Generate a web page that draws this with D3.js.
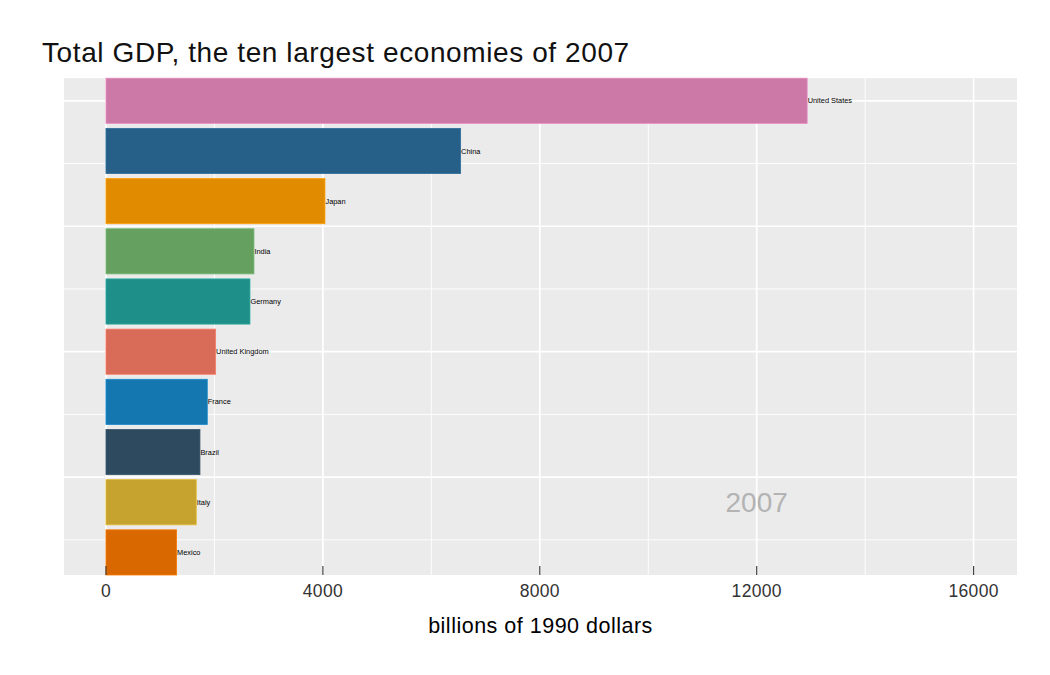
<!DOCTYPE html>
<meta charset="utf-8">
<script src="https://d3js.org/d3.v7.min.js"></script>
<style type="text/css">
    body { margin: 0; background: #fff; }
    text { font-family: "Liberation Sans", Arial, Helvetica, sans-serif; }
</style>
<body>
<svg width="1050" height="675"></svg>
<script>

    let countries = ['United States','China','Japan','India','Germany','United Kingdom','France','Brazil','Italy','Mexico'],
        gdp = [12930, 6540, 4038, 2729, 2655, 2022, 1868, 1733, 1665, 1302],
        colors = ['#CC79A7','#265F87','#E08B00','#66A061','#1F9089','#D96B59','#1477B0','#2E4A5E','#C6A22E','#D96800'],
        xMajor = [0, 4000, 8000, 12000, 16000],
        xMinor = [2000, 6000, 10000, 14000],
        yMajor = [1, 3.5, 6, 8.5],
        yMinor = [2.25, 4.75, 7.25, 9.75],
        year = '2007'

    let data = countries.map((c,i)=>({name:c, value:gdp[i], rank:i+1, color:colors[i]}))

    let pLeft = 64, pRight = 1017, pTop = 78.2, pBottom = 575

    let x = d3.scaleLinear().domain([-774, 16800]).range([pLeft, pRight])
    let y = d3.scaleLinear().domain([0.55, 10.45]).range([pTop, pBottom])

    let svg = d3.select('svg')

    svg.append('rect')
        .attr('x', pLeft).attr('y', pTop)
        .attr('width', pRight-pLeft).attr('height', pBottom-pTop)
        .attr('fill', '#EBEBEB')

    let grid = svg.append('g')

    grid.selectAll('.yminor').data(yMinor).enter().append('line')
        .attr('x1', pLeft).attr('x2', pRight)
        .attr('y1', y).attr('y2', y)
        .attr('stroke', '#fff').attr('stroke-width', 0.9)
    grid.selectAll('.xminor').data(xMinor).enter().append('line')
        .attr('x1', x).attr('x2', x)
        .attr('y1', pTop).attr('y2', pBottom)
        .attr('stroke', '#fff').attr('stroke-width', 0.9)
    grid.selectAll('.ymajor').data(yMajor).enter().append('line')
        .attr('x1', pLeft).attr('x2', pRight)
        .attr('y1', y).attr('y2', y)
        .attr('stroke', '#fff').attr('stroke-width', 1.7)
    grid.selectAll('.xmajor').data(xMajor).enter().append('line')
        .attr('x1', x).attr('x2', x)
        .attr('y1', pTop).attr('y2', pBottom)
        .attr('stroke', '#fff').attr('stroke-width', 1.7)

    let bars = svg.append('g')

    bars.selectAll('rect').data(data).enter().append('rect')
        .attr('x', x(0))
        .attr('y', d=>y(d.rank-0.45))
        .attr('width', d=>x(d.value)-x(0))
        .attr('height', y(1.45)-y(0.55))
        .attr('fill', d=>d.color)
        .attr('stroke', d=>d3.color(d.color).brighter(0.4))
        .attr('stroke-width', 0.8)

    bars.selectAll('text').data(data).enter().append('text')
        .attr('x', d=>x(d.value)+0.5)
        .attr('y', d=>y(d.rank))
        .attr('dy', '0.35em')
        .attr('font-size', 7.4)
        .attr('fill', '#000')
        .text(d=>d.name)

    svg.append('text')
        .attr('x', x(12000))
        .attr('y', y(9))
        .attr('dy', '0.35em')
        .attr('text-anchor', 'middle')
        .attr('font-size', 28)
        .attr('fill', '#B3B3B3')
        .text(year)

    // ticks sit inside the panel, labels below
    let axis = svg.append('g')
    axis.selectAll('line').data(xMajor).enter().append('line')
        .attr('x1', x).attr('x2', x)
        .attr('y1', pBottom-9).attr('y2', pBottom)
        .attr('stroke', '#333').attr('stroke-width', 1.1)
    axis.selectAll('text').data(xMajor).enter().append('text')
        .attr('x', x)
        .attr('y', 597)
        .attr('text-anchor', 'middle')
        .attr('font-size', 17.5)
        .attr('letter-spacing', 0.3)
        .attr('fill', '#333')
        .text(d=>d)

    svg.append('text')
        .attr('x', (pLeft+pRight)/2)
        .attr('y', 633)
        .attr('text-anchor', 'middle')
        .attr('font-size', 21.5)
        .attr('letter-spacing', 0.5)
        .attr('fill', '#000')
        .text('billions of 1990 dollars')

    svg.append('text')
        .attr('x', 42)
        .attr('y', 62)
        .attr('font-size', 28)
        .attr('letter-spacing', 0.6)
        .attr('fill', '#111')
        .text('Total GDP, the ten largest economies of 2007')

</script>
</body>
